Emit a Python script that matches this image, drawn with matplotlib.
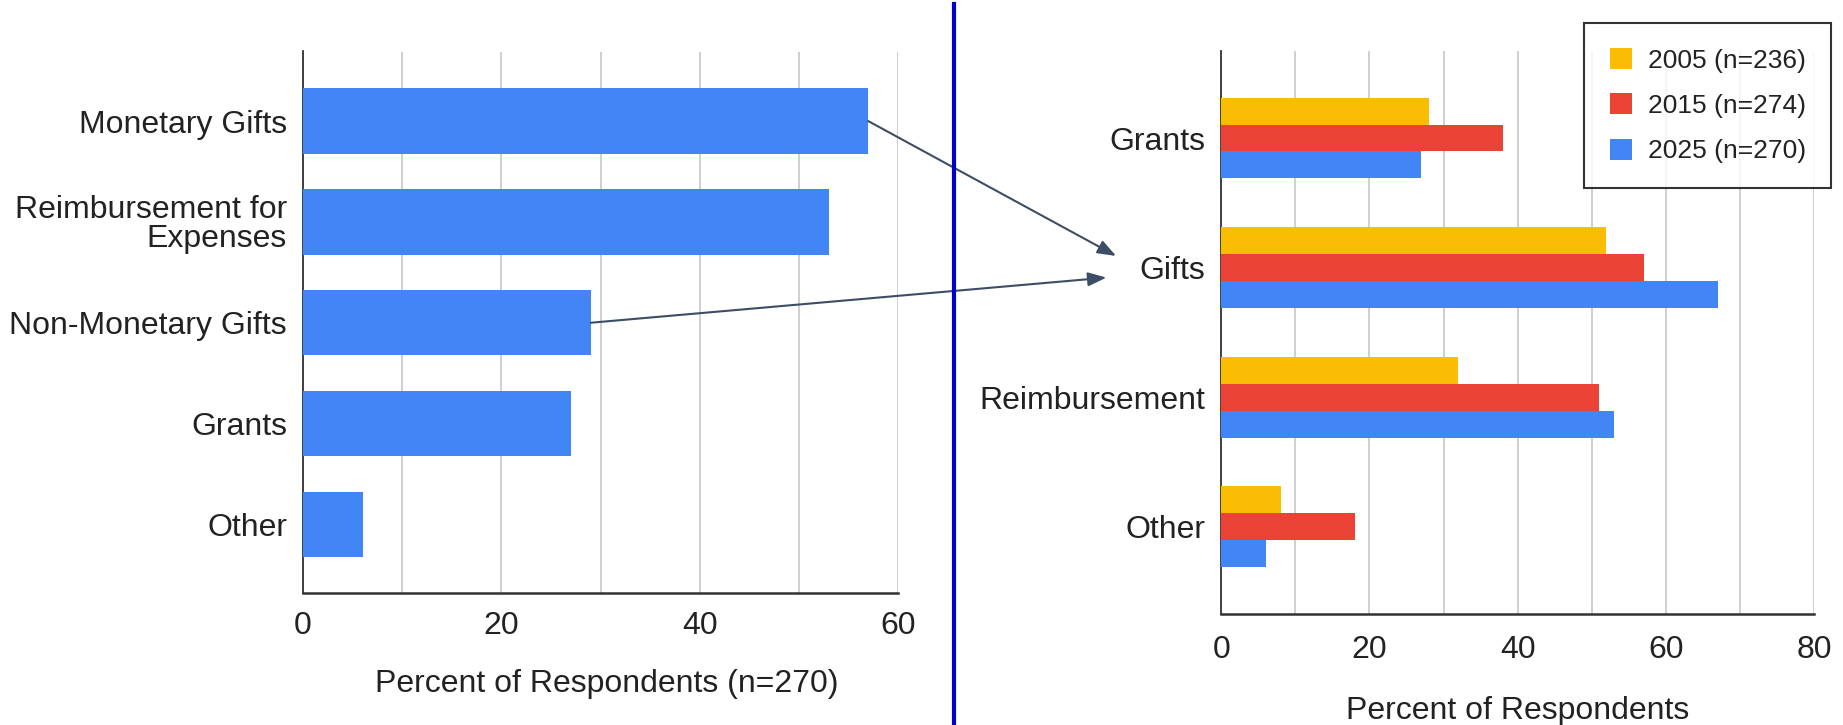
import matplotlib
matplotlib.use("Agg")
import matplotlib.pyplot as plt
import numpy as np
from matplotlib.patches import ConnectionPatch, Patch

plt.rcParams['font.family'] = ['Liberation Sans', 'DejaVu Sans']

# ---- data ----
left_categories = ["Monetary Gifts", "Reimbursement for\nExpenses", "Non-Monetary Gifts", "Grants", "Other"]
left_values = [57, 53, 29, 27, 6]

right_categories = ["Grants", "Gifts", "Reimbursement", "Other"]
series_labels = ["2005 (n=236)", "2015 (n=274)", "2025 (n=270)"]
values_2005 = [28, 52, 32, 8]
values_2015 = [38, 57, 51, 18]
values_2025 = [27, 67, 53, 6]

left_xticks = [0, 20, 40, 60]
right_xticks = [0, 20, 40, 60, 80]

BLUE = "#4285F4"
RED = "#EA4335"
YELLOW = "#FBBC04"
GRID = "#cccccc"
TXT = "#222222"

W, H = 1843, 725
fig = plt.figure(figsize=(W / 100, H / 100), dpi=100)

def fx(px):
    return px / W

def fy(py):
    return 1 - py / H

# left axes
axL = fig.add_axes([fx(303), fy(593), fx(898) - fx(303), fy(51.5) - fy(593)])
# right axes
axR = fig.add_axes([fx(1221.3), fy(614), fx(1813.9) - fx(1221.3), fy(50.7) - fy(614)])

FS = 23

def style(ax, xmax, pad):
    ax.set_xlim(0, xmax)
    ax.set_xticks(np.arange(0, xmax + 1, 10), minor=True)
    ax.grid(True, axis='x', which='both', color=GRID, lw=1.3)
    ax.set_axisbelow(True)
    for s in ['top', 'right']:
        ax.spines[s].set_visible(False)
    ax.spines['left'].set_color('#333333')
    ax.spines['left'].set_linewidth(1.3)
    ax.spines['bottom'].set_color('#333333')
    ax.spines['bottom'].set_linewidth(1.8)
    ax.tick_params(axis='both', which='both', length=0, labelsize=FS, colors=TXT)
    ax.tick_params(axis='x', pad=pad)
    ax.tick_params(axis='y', pad=11.5)

# ---- left chart ----
yl = np.arange(len(left_categories))
axL.barh(yl, left_values, height=0.648, color=BLUE, zorder=3)
axL.set_yticks(yl)
axL.set_yticklabels(left_categories)
for lbl in axL.get_yticklabels():
    lbl.set_linespacing(0.95)
    lbl.set_horizontalalignment('right')
axL.set_ylim(4.68, -0.69)
axL.set_xticks(left_xticks)
style(axL, 60, 13)
axL.set_xlabel("Percent of Respondents (n=270)", fontsize=FS, color=TXT, va='center')
axL.xaxis.set_label_coords(0.51, -0.1680)

# ---- right chart ----
yr = np.arange(len(right_categories))
bh = 0.623 / 3
axR.barh(yr - bh, values_2005, height=bh, color=YELLOW, zorder=3, label=series_labels[0])
axR.barh(yr, values_2015, height=bh, color=RED, zorder=3, label=series_labels[1])
axR.barh(yr + bh, values_2025, height=bh, color=BLUE, zorder=3, label=series_labels[2])
axR.set_yticks(yr)
axR.set_yticklabels(right_categories)
axR.set_ylim(3.673, -0.674)
axR.set_xticks(right_xticks)
style(axR, 80, 15)
axR.set_xlabel("Percent of Respondents", fontsize=FS, color=TXT, va='center')
axR.xaxis.set_label_coords(0.5, -0.1715)

handles = [Patch(facecolor=c, edgecolor='none') for c in (YELLOW, RED, BLUE)]
leg = fig.legend(handles, series_labels, loc='upper right',
                 bbox_to_anchor=(fx(1831), fy(23)), bbox_transform=fig.transFigure,
                 fontsize=19, frameon=True, fancybox=False, borderaxespad=0,
                 handlelength=0.85, handleheight=0.85, handletextpad=0.6,
                 labelspacing=0.78, borderpad=0.95)
leg.get_frame().set_edgecolor('black')
leg.get_frame().set_linewidth(1.5)
for t in leg.get_texts():
    t.set_color(TXT)

# ---- divider line ----
fig.add_artist(plt.Line2D([fx(954), fx(954)], [fy(4), 0], color="#0000CC", lw=3,
                          transform=fig.transFigure))

# ---- arrows ----
ARROW = "#3d4d66"
astyle = "-|>,head_length=0.8,head_width=0.3"
con1 = ConnectionPatch(xyA=(left_values[0], 0), coordsA=axL.transData,
                       xyB=(-14.2, 0.91), coordsB=axR.transData,
                       arrowstyle=astyle, mutation_scale=14, color=ARROW, lw=1.5,
                       shrinkA=0, shrinkB=0)
con2 = ConnectionPatch(xyA=(left_values[2], 2), coordsA=axL.transData,
                       xyB=(-15.5, 1.077), coordsB=axR.transData,
                       arrowstyle=astyle, mutation_scale=14, color=ARROW, lw=1.5,
                       shrinkA=0, shrinkB=0)
fig.add_artist(con1)
fig.add_artist(con2)

fig.savefig("out.png", dpi=100)
